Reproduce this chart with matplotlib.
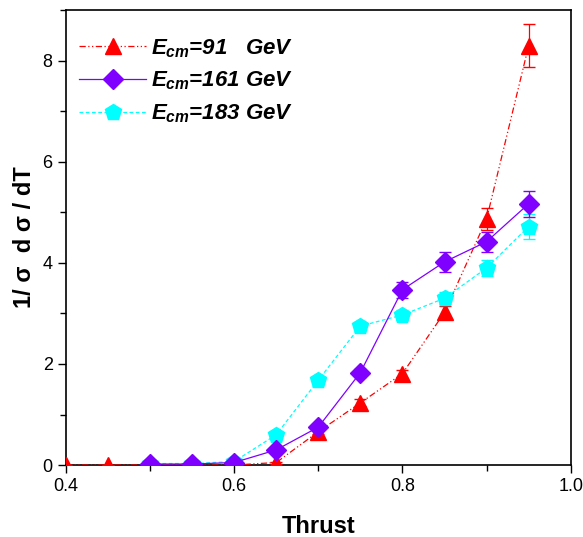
import matplotlib
matplotlib.use('Agg')
import matplotlib.pyplot as plt
from matplotlib.ticker import MultipleLocator
from matplotlib.lines import Line2D

plt.rcParams['font.family'] = ['Liberation Sans', 'DejaVu Sans']
plt.rcParams['mathtext.fontset'] = 'custom'
plt.rcParams['mathtext.it'] = 'Liberation Sans:italic:bold'
plt.rcParams['mathtext.rm'] = 'Liberation Sans:italic:bold'

thrust = [0.40, 0.45, 0.50, 0.55, 0.60, 0.65, 0.70, 0.75, 0.80, 0.85, 0.90, 0.95]

# E_cm = 91 GeV
t91 = thrust
y91 = [0.0, 0.0, 0.0, 0.0, 0.0, 0.05, 0.66, 1.23, 1.81, 3.02, 4.87, 8.30]
e91 = [0.0, 0.0, 0.0, 0.0, 0.0, 0.02, 0.05, 0.07, 0.08, 0.13, 0.22, 0.42]

# E_cm = 161 GeV
t161 = thrust[2:]
y161 = [0.02, 0.02, 0.05, 0.30, 0.75, 1.83, 3.47, 4.02, 4.42, 5.17]
e161 = [0.01, 0.01, 0.02, 0.04, 0.06, 0.08, 0.16, 0.20, 0.20, 0.26]

# E_cm = 183 GeV
t183 = thrust[2:]
y183 = [0.03, 0.03, 0.07, 0.60, 1.68, 2.75, 2.97, 3.30, 3.90, 4.72]
e183 = [0.01, 0.01, 0.02, 0.04, 0.06, 0.08, 0.10, 0.12, 0.16, 0.25]

labels = [r'$E_{cm}$=91   GeV', r'$E_{cm}$=161 GeV', r'$E_{cm}$=183 GeV']

fig = plt.figure(figsize=(5.83, 5.37), dpi=100)
ax = fig.add_axes([0.113, 0.134, 0.866, 0.847])

styles = [
    (t91, y91, e91, '#ff0000', (0, (5, 2, 1, 2, 1, 2)), '^', 11),
    (t161, y161, e161, '#8000ff', '-', 'D', 10),
    (t183, y183, e183, '#00ffff', (0, (3, 2)), 'p', 12),
]
handles = []
for (x, y, e, c, ls, m, ms), z in zip(styles, [3, 4, 3]):
    ax.errorbar(x, y, yerr=e, color=c, linestyle=ls, linewidth=0.9, marker=m,
                markersize=ms, capsize=4, elinewidth=0.9, zorder=z)
    handles.append(Line2D([], [], color=c, linestyle=ls, linewidth=0.9,
                          marker=m, markersize=ms))

ax.set_xlim(0.4, 1.0)
ax.set_ylim(0, 9.0)
ax.xaxis.set_major_locator(MultipleLocator(0.2))
ax.xaxis.set_minor_locator(MultipleLocator(0.1))
ax.yaxis.set_major_locator(MultipleLocator(2))
ax.yaxis.set_minor_locator(MultipleLocator(1))
ax.tick_params(which='both', direction='out', labelsize=13, width=1)
ax.tick_params(which='major', length=6)
ax.tick_params(which='minor', length=4)
for s in ax.spines.values():
    s.set_linewidth(1.2)
ax.xaxis.set_major_formatter(plt.FuncFormatter(lambda v, p: f'{v:.1f}'))
ax.yaxis.set_major_formatter(plt.FuncFormatter(lambda v, p: f'{v:.0f}'))

ax.set_xlabel('Thrust', fontsize=17, fontweight='bold', labelpad=14)
ax.set_ylabel('1/ σ  d σ / dT', fontsize=17, fontweight='bold', labelpad=5)

leg = ax.legend(handles, labels, loc='upper left', bbox_to_anchor=(0.0, 0.97),
                frameon=False, fontsize=16, handlelength=3.0, borderaxespad=0.3,
                borderpad=0.3, labelspacing=0.45, handletextpad=0.25)
for t in leg.get_texts():
    t.set_fontweight('bold')
    t.set_fontstyle('italic')

fig.savefig('out.png', dpi=100)
